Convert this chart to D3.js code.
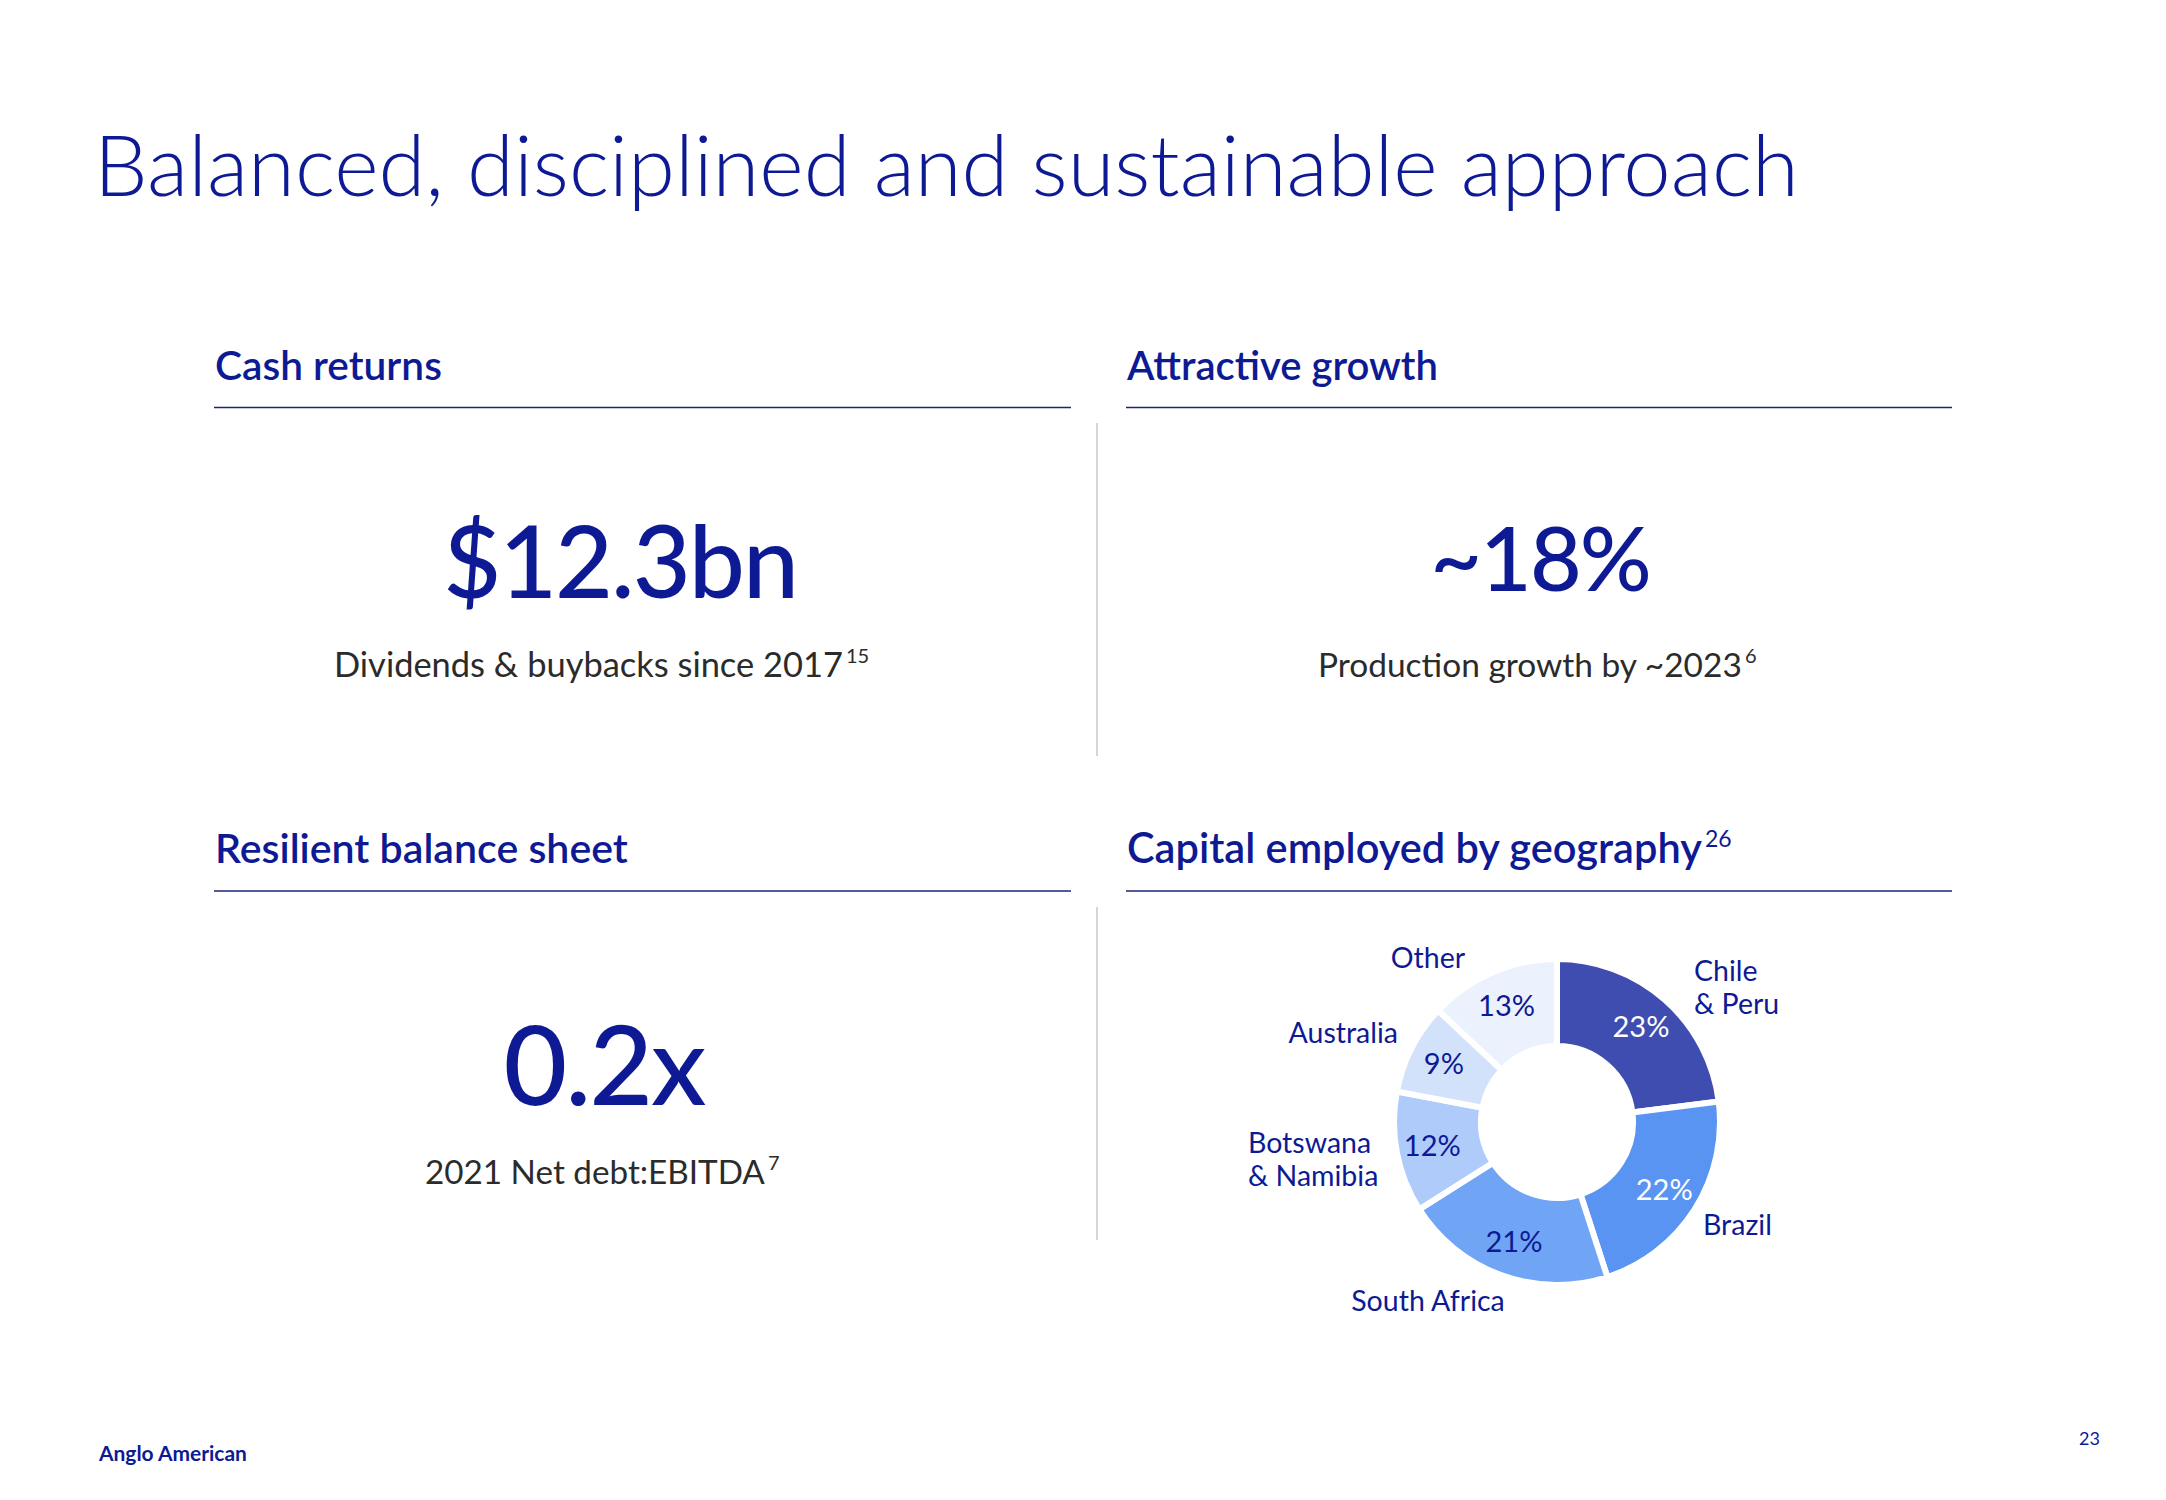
<!DOCTYPE html>
<html>
<head>
<meta charset="utf-8">
<script src="https://cdn.jsdelivr.net/npm/d3@7"></script>
<style>
  html, body { margin: 0; padding: 0; background: #ffffff; }
  svg { display: block; }
</style>
</head>
<body>
<svg id="chart" width="2166" height="1500"></svg>
<script>
// ---------- data ----------
const slideTitle = "Balanced, disciplined and sustainable approach";
const sectionTitles = ["Cash returns", "Attractive growth", "Resilient balance sheet", "Capital employed by geography"];
const sectionNotes = ["", "", "", "26"];
const kpiValues = ["$12.3bn", "~18%", "0.2x"];
const kpiCaptions = ["Dividends & buybacks since 2017", "Production growth by ~2023", "2021 Net debt:EBITDA"];
const kpiNotes = ["15", "6", "7"];
const geoCategories = ["Chile\n& Peru", "Brazil", "South Africa", "Botswana\n& Namibia", "Australia", "Other"];
const geoValues = [23, 22, 21, 12, 9, 13];
const footerText = "Anglo American";
const pageNumber = "23";

// ---------- styles ----------
const NAVY = "#0d1a94";
const GREY = "#2b2b2b";
const FONT = "Lato, 'Open Sans', sans-serif";
const sliceColors = ["#3f4db0", "#5a94f2", "#70a4f5", "#aecbfa", "#d3e2fb", "#ebf2fd"];
const pctColors = ["#ffffff", "#ffffff", NAVY, NAVY, NAVY, NAVY];

const svg = d3.select("#chart");

function fitWidth(sel, target) {
  const w = sel.node().getComputedTextLength();
  const fs = parseFloat(sel.attr("font-size"));
  sel.attr("font-size", fs * target / w);
}

// Title
const t = svg.append("text")
  .attr("x", 94).attr("y", 196)
  .attr("font-family", FONT).attr("font-weight", 300)
  .attr("font-size", 80).attr("fill", NAVY)
  .text(slideTitle);
fitWidth(t, 1705);

// Section headers & rules
const headerLayout = [
  {x: 215, y: 380, w: 227, rule: [214, 1071, 407.5]},
  {x: 1127, y: 380, w: 311, rule: [1126, 1952, 407.5]},
  {x: 215, y: 863, w: 413, rule: [214, 1071, 891]},
  {x: 1127, y: 863, w: 575, rule: [1126, 1952, 891]}
];
sectionTitles.forEach((s, i) => {
  const L = headerLayout[i];
  const h = svg.append("text")
    .attr("x", L.x).attr("y", L.y)
    .attr("font-family", FONT).attr("font-weight", 600)
    .attr("font-size", 38).attr("fill", NAVY)
    .text(s);
  fitWidth(h, L.w);
  if (sectionNotes[i]) {
    svg.append("text")
      .attr("x", L.x + L.w + 3).attr("y", L.y - 16)
      .attr("font-family", FONT).attr("font-weight", 400)
      .attr("font-size", 23).attr("fill", NAVY)
      .text(sectionNotes[i]);
  }
  svg.append("line")
    .attr("x1", L.rule[0]).attr("x2", L.rule[1])
    .attr("y1", L.rule[2]).attr("y2", L.rule[2])
    .attr("stroke", "#1b2477").attr("stroke-width", 1.6);
});

// Vertical dividers
[[423, 756], [907, 1240]].forEach(([a, b]) => {
  svg.append("line")
    .attr("x1", 1097).attr("x2", 1097).attr("y1", a).attr("y2", b)
    .attr("stroke", "#c4c4c4").attr("stroke-width", 1.4);
});

// KPIs
const kpiLayout = [
  {cx: 620, y: 598, w: 355, cy: 677, cx0: 334, cw: 509},
  {cx: 1540, y: 591, w: 221, cy: 677, cx0: 1318, cw: 424},
  {cx: 604, y: 1105, w: 201, cy: 1184, cx0: 425, cw: 340}
];
kpiValues.forEach((v, i) => {
  const L = kpiLayout[i];
  const k = svg.append("text")
    .attr("x", L.cx).attr("y", L.y).attr("text-anchor", "middle")
    .attr("font-family", FONT).attr("font-weight", 500)
    .attr("font-size", 110).attr("fill", NAVY)
    .attr("letter-spacing", -2)
    .text(v);
  fitWidth(k, L.w);
  const c = svg.append("text")
    .attr("x", L.cx0).attr("y", L.cy)
    .attr("font-family", FONT).attr("font-weight", 400)
    .attr("font-size", 32).attr("fill", GREY)
    .text(kpiCaptions[i]);
  fitWidth(c, L.cw);
  svg.append("text")
    .attr("x", L.cx0 + L.cw + 3).attr("y", L.cy - 14)
    .attr("font-family", FONT).attr("font-weight", 400)
    .attr("font-size", 20).attr("fill", GREY)
    .text(kpiNotes[i]);
});

// Donut
const cx = 1557, cy = 1122, R = 163, r0 = 76;
const pie = d3.pie().sort(null).value(d => d.v);
const arcs = pie(geoCategories.map((c, i) => ({c, v: geoValues[i], i})));
const arc = d3.arc().innerRadius(r0).outerRadius(R);
const labelArc = d3.arc().innerRadius(127).outerRadius(127);
const g = svg.append("g").attr("transform", `translate(${cx},${cy})`);
g.selectAll("path.slice").data(arcs).join("path")
  .attr("class", "slice")
  .attr("d", arc)
  .attr("fill", d => sliceColors[d.data.i])
  .attr("stroke", "#ffffff").attr("stroke-width", 6).attr("stroke-linejoin", "miter");

g.selectAll("text.pct").data(arcs).join("text")
  .attr("class", "pct")
  .attr("transform", d => { const [x, y] = labelArc.centroid(d); return `translate(${x},${y})`; })
  .attr("text-anchor", "middle").attr("dy", "0.35em")
  .attr("font-family", FONT).attr("font-size", 29)
  .attr("fill", d => pctColors[d.data.i])
  .text(d => d.data.v + "%");

// outer category labels: offsets from centre per category
const outerLayout = [
  {dx: 137, dy: -141, anchor: "start"},
  {dx: 146, dy: 113, anchor: "start"},
  {dx: -129, dy: 189, anchor: "middle"},
  {dx: -309, dy: 31, anchor: "start"},
  {dx: -159, dy: -79, anchor: "end"},
  {dx: -129, dy: -154, anchor: "middle"}
];
arcs.forEach(d => {
  const L = outerLayout[d.data.i];
  const lines = d.data.c.split("\n");
  const tx = g.append("text")
    .attr("x", L.dx).attr("y", L.dy).attr("text-anchor", L.anchor)
    .attr("font-family", FONT).attr("font-size", 28.5).attr("fill", NAVY);
  lines.forEach((ln, j) => {
    tx.append("tspan").attr("x", L.dx).attr("y", L.dy + j * 33).text(ln);
  });
});

// Footer
const ft = svg.append("text")
  .attr("x", 99).attr("y", 1461)
  .attr("font-family", FONT).attr("font-weight", 700)
  .attr("font-size", 20).attr("fill", NAVY)
  .text(footerText);
fitWidth(ft, 148);
svg.append("text")
  .attr("x", 2100).attr("y", 1445).attr("text-anchor", "end")
  .attr("font-family", FONT).attr("font-size", 18).attr("fill", NAVY)
  .text(pageNumber);
</script>
</body>
</html>
